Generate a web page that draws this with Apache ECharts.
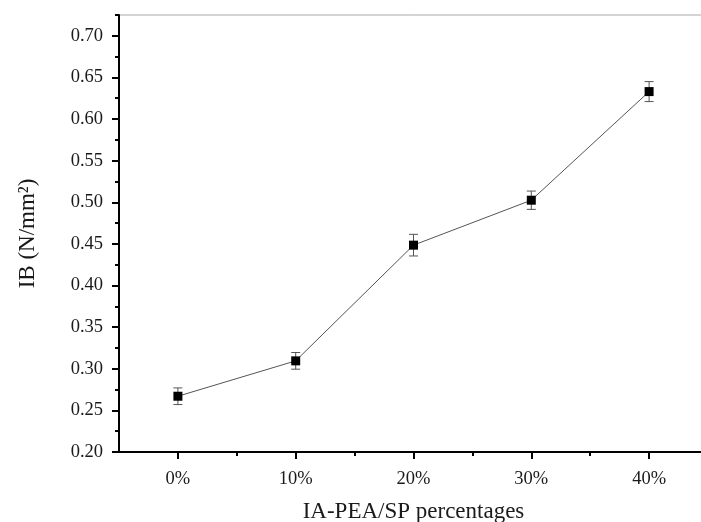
<!DOCTYPE html>
<html>
<head>
<meta charset="utf-8">
<script src="https://cdn.jsdelivr.net/npm/echarts@6/dist/echarts.min.js"></script>
<style>html,body{margin:0;padding:0;background:#fff}#c{width:701px;height:522px}</style>
</head>
<body>
<div id="c"></div>
<script>
// Data
const percentages = [0, 10, 20, 30, 40];
const ibValues = [0.267, 0.3095, 0.4485, 0.5025, 0.633];
const ibErrors = [0.010, 0.010, 0.013, 0.011, 0.012];
const xMajorTicks = [0, 10, 20, 30, 40];
const xMinorTicks = [5, 15, 25, 35];
const yMajorTicks = [0.20, 0.25, 0.30, 0.35, 0.40, 0.45, 0.50, 0.55, 0.60, 0.65, 0.70];
const yMinorTicks = [0.225, 0.275, 0.325, 0.375, 0.425, 0.475, 0.525, 0.575, 0.625, 0.675, 0.725];

const font = 'Liberation Serif';
const txt = '#1a1a1a';

const lineData = percentages.map((p, i) => [p, ibValues[i]]);
const errData = percentages.map((p, i) => [p, ibValues[i] - ibErrors[i], ibValues[i] + ibErrors[i]]);

const chart = echarts.init(document.getElementById('c'), null, {renderer: 'canvas'});
chart.setOption({
  animation: false,
  backgroundColor: '#fff',
  grid: {left: 119, top: 15, bottom: 70, right: -7, outerBoundsMode: 'none', containLabel: false,
         show: true, borderColor: '#aaaaaa', borderWidth: 1},
  xAxis: [{
    type: 'value', min: -5, max: 45, position: 'bottom',
    name: 'IA-PEA/SP percentages', nameLocation: 'middle', nameGap: 48,
    nameTextStyle: {fontFamily: font, fontSize: 23, color: txt},
    axisLine: {show: true, onZero: false, lineStyle: {color: '#000', width: 2}},
    axisTick: {show: true, customValues: xMajorTicks, length: 7, lineStyle: {color: '#000', width: 2}},
    axisLabel: {show: true, customValues: xMajorTicks, formatter: v => v + '%', fontFamily: font, fontSize: 18.5, color: txt, margin: 18},
    splitLine: {show: false}
  }, {
    type: 'value', min: -5, max: 45, position: 'bottom',
    axisLine: {show: false, onZero: false},
    axisTick: {show: true, customValues: xMinorTicks, length: 4, lineStyle: {color: '#000', width: 2}},
    axisLabel: {show: false},
    splitLine: {show: false}
  }],
  yAxis: [{
    type: 'value', min: 0.2, max: 0.725, interval: 0.05, position: 'left',
    name: 'IB (N/mm²)', nameLocation: 'middle', nameGap: 80, nameRotate: 90,
    nameTextStyle: {fontFamily: font, fontSize: 23, color: txt},
    axisLine: {show: true, onZero: false, lineStyle: {color: '#000', width: 2}},
    axisTick: {show: true, customValues: yMajorTicks, length: 7, lineStyle: {color: '#000', width: 2}},
    axisLabel: {show: true, customValues: yMajorTicks, formatter: v => v.toFixed(2), fontFamily: font, fontSize: 18.5, color: txt, margin: 16},
    splitLine: {show: false}
  }, {
    type: 'value', min: 0.2, max: 0.725, position: 'left',
    axisLine: {show: false, onZero: false},
    axisTick: {show: true, customValues: yMinorTicks, length: 4, lineStyle: {color: '#000', width: 2}},
    axisLabel: {show: false},
    splitLine: {show: false}
  }],
  series: [{
    type: 'custom',
    xAxisIndex: 0, yAxisIndex: 0,
    data: errData,
    z: 3,
    renderItem: function (params, api) {
      const x = api.value(0);
      const lo = api.coord([x, api.value(1)]);
      const hi = api.coord([x, api.value(2)]);
      const hw = 4.5;
      const style = {stroke: '#555', lineWidth: 1, fill: null};
      return {
        type: 'group',
        children: [
          {type: 'line', shape: {x1: lo[0], y1: lo[1], x2: hi[0], y2: hi[1]}, style: style},
          {type: 'line', shape: {x1: lo[0] - hw, y1: lo[1], x2: lo[0] + hw, y2: lo[1]}, style: style},
          {type: 'line', shape: {x1: hi[0] - hw, y1: hi[1], x2: hi[0] + hw, y2: hi[1]}, style: style}
        ]
      };
    }
  }, {
    type: 'line',
    xAxisIndex: 0, yAxisIndex: 0,
    data: lineData,
    z: 4,
    symbol: 'rect',
    symbolSize: 9,
    itemStyle: {color: '#000'},
    lineStyle: {color: '#555', width: 1}
  }]
});
</script>
</body>
</html>
